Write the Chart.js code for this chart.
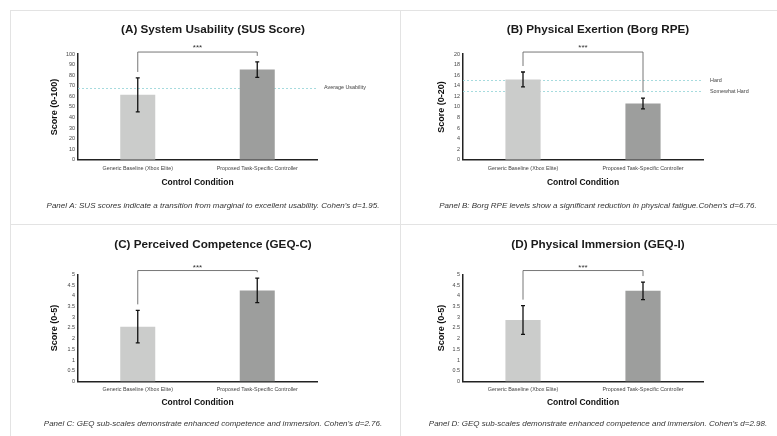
<!DOCTYPE html>
<html><head><meta charset="utf-8">
<script src="https://cdn.jsdelivr.net/npm/chart.js@4"></script>
<style>
html,body{margin:0;padding:0;background:#fff;}
body{width:777px;height:436px;position:relative;overflow:hidden;font-family:"Liberation Sans",Arial,sans-serif;}
.line{position:absolute;background:#e3e3e3;}
canvas{position:absolute;}
</style></head><body>
<div class="line" style="left:10px;top:10px;width:767px;height:1px"></div>
<div class="line" style="left:10px;top:224px;width:767px;height:1px"></div>
<div class="line" style="left:10px;top:10px;width:1px;height:426px"></div>
<div class="line" style="left:400px;top:10px;width:1px;height:426px"></div>
<canvas id="cA" width="374" height="214" style="left:26px;top:10px;width:374px;height:214px"></canvas>
<canvas id="cB" width="358" height="214" style="left:419px;top:10px;width:358px;height:214px"></canvas>
<canvas id="cC" width="374" height="212" style="left:26px;top:224px;width:374px;height:212px"></canvas>
<canvas id="cD" width="358" height="212" style="left:419px;top:224px;width:358px;height:212px"></canvas>
<script>
// ---- data ----
const categories = ['Generic Baseline (Xbox Elite)', 'Proposed Task-Specific Controller'];

const susMeans = [61.4, 85.3];
const susSDs = [16.0, 7.3];
const susRefValues = [68];
const susRefLabels = ['Average Usability'];

const borgMeans = [15.2, 10.65];
const borgSDs = [1.4, 1.0];
const borgRefValues = [15, 13];
const borgRefLabels = ['Hard', 'Somewhat Hard'];

const geqCMeans = [2.56, 4.25];
const geqCSDs = [0.76, 0.57];

const geqIMeans = [2.87, 4.23];
const geqISDs = [0.67, 0.41];

const sigLabel = '***';

const titles = ['(A) System Usability (SUS Score)', '(B) Physical Exertion (Borg RPE)', '(C) Perceived Competence (GEQ-C)', '(D) Physical Immersion (GEQ-I)'];
const yTitles = ['Score (0-100)', 'Score (0-20)', 'Score (0-5)', 'Score (0-5)'];
const xTitle = 'Control Condition';
const captions = [
  "Panel A: SUS scores indicate a transition from marginal to excellent usability. Cohen's d=1.95.",
  "Panel B: Borg RPE levels show a significant reduction in physical fatigue.Cohen's d=6.76.",
  "Panel C: GEQ sub-scales demonstrate enhanced competence and immersion. Cohen's d=2.76.",
  "Panel D: GEQ sub-scales demonstrate enhanced competence and immersion. Cohen's d=2.98."
];

// ---- drawing ----
const FONT = '"Liberation Sans", Arial, sans-serif';
const barColors = ['#cbcccb', '#9d9e9d'];

const annot = {
  id: 'annot',
  beforeDatasetsDraw(chart, args, o) {
    const {ctx, chartArea: ca, scales: {y}} = chart;
    ctx.save();
    ctx.strokeStyle = '#a6dbde'; ctx.lineWidth = 1; ctx.setLineDash([2, 2]);
    (o.refValues || []).forEach(v => {
      const py = Math.round(y.getPixelForValue(v)) + 0.5;
      ctx.beginPath(); ctx.moveTo(ca.left, py); ctx.lineTo(ca.right, py); ctx.stroke();
    });
    ctx.restore();
  },
  afterDatasetsDraw(chart, args, o) {
    const {ctx, chartArea: ca, scales: {x, y}} = chart;
    const m = o.means, s = o.sds;
    ctx.save();
    ctx.strokeStyle = '#111'; ctx.lineWidth = 1.3;
    m.forEach((v, i) => {
      const px = x.getPixelForValue(i);
      const t = y.getPixelForValue(v + s[i]), b = y.getPixelForValue(v - s[i]);
      ctx.beginPath();
      ctx.moveTo(px, t); ctx.lineTo(px, b);
      ctx.moveTo(px - 2, t); ctx.lineTo(px + 2, t);
      ctx.moveTo(px - 2, b); ctx.lineTo(px + 2, b);
      ctx.stroke();
    });
    const by = ca.top - o.bracketOff;
    const x0 = x.getPixelForValue(0), x1 = x.getPixelForValue(1);
    const l0 = y.getPixelForValue(m[0] + s[0]) - 6, l1 = y.getPixelForValue(m[1] + s[1]) - 6;
    ctx.strokeStyle = '#666'; ctx.lineWidth = 0.9;
    ctx.beginPath(); ctx.moveTo(x0, l0); ctx.lineTo(x0, by); ctx.lineTo(x1, by); ctx.lineTo(x1, l1); ctx.stroke();
    ctx.fillStyle = '#333'; ctx.font = '8px ' + FONT; ctx.textAlign = 'center'; ctx.textBaseline = 'alphabetic';
    ctx.fillText(sigLabel, (x0 + x1) / 2, by - o.starOff);
    ctx.restore();
  }
};

function makePanel(id, idx, means, sds, yMax, yStep, refValues, refLabels, col, row) {
  new Chart(document.getElementById(id), {
    type: 'bar',
    data: {
      labels: categories,
      datasets: [{ data: means, backgroundColor: barColors, borderWidth: 0, categoryPercentage: 1, barPercentage: 0.293 }]
    },
    plugins: [annot],
    options: {
      responsive: false, animation: false, devicePixelRatio: 1,
      layout: { padding: 0 },
      plugins: {
        legend: { display: false }, tooltip: { enabled: false },
        title: { display: true, text: titles[idx], color: '#1a1a1a',
          font: { family: FONT, size: 11.7, weight: 'bold', lineHeight: 1.2 }, padding: row.titlePad },
        subtitle: { display: true, position: 'bottom', text: captions[idx], color: '#333',
          font: { family: FONT, size: 8, style: 'italic', lineHeight: 1.2 }, padding: row.capPad },
        annot: { means, sds, refValues, bracketOff: row.bracketOff, starOff: row.starOff }
      },
      scales: {
        x: {
          grid: { display: false, drawTicks: false },
          border: { display: true, color: '#222', width: 1.5 },
          ticks: { font: { family: FONT, size: 5.4, lineHeight: 1.2 }, color: '#444', padding: row.tickPad, maxRotation: 0, autoSkip: false },
          title: { display: true, text: xTitle, color: '#111', font: { family: FONT, size: 8.5, weight: 'bold', lineHeight: 1.2 }, padding: row.xTitlePad }
        },
        y: {
          min: 0, max: yMax,
          grid: { display: false, drawTicks: false },
          border: { display: true, color: '#222', width: 1.5 },
          ticks: { stepSize: yStep, font: { family: FONT, size: 5.4, lineHeight: 1.2 }, color: '#444', padding: 3, callback: v => String(v) },
          title: { display: true, text: yTitles[idx], color: '#111', font: { family: FONT, size: 9, weight: 'bold', lineHeight: 1.2 }, padding: { top: col.yTitlePad, bottom: 0 } },
          afterFit: s => { s.width = col.yAxisW; }
        },
        y2: {
          position: 'right', min: 0, max: yMax,
          grid: { display: false, drawTicks: false },
          border: { display: false },
          afterBuildTicks: s => { s.ticks = refValues.map(v => ({ value: v })); },
          ticks: { autoSkip: false, font: { family: FONT, size: 5.4, lineHeight: 1.2 }, color: '#444', padding: 7,
            callback: v => { const k = refValues.indexOf(v); return k >= 0 ? refLabels[k] : ''; } },
          afterFit: s => { s.width = col.rightW; }
        }
      }
    }
  });
}

const colL = { yAxisW: 52, rightW: 83, yTitlePad: 23.6 };
const colR = { yAxisW: 44, rightW: 74, yTitlePad: 16.9 };
const rowT = { titlePad: { top: 13, bottom: 17 }, tickPad: 5.8, xTitlePad: { top: 0, bottom: 2 }, capPad: { top: 11.1, bottom: 13.2 }, bracketOff: 2, starOff: 2 };
const rowB = { titlePad: { top: 14, bottom: 22.3 }, tickPad: 4.8, xTitlePad: { top: 0, bottom: 2 }, capPad: { top: 9.4, bottom: 7.2 }, bracketOff: 3.8, starOff: 1 };

makePanel('cA', 0, susMeans, susSDs, 100, 10, susRefValues, susRefLabels, colL, rowT);
makePanel('cB', 1, borgMeans, borgSDs, 20, 2, borgRefValues, borgRefLabels, colR, rowT);
makePanel('cC', 2, geqCMeans, geqCSDs, 5, 0.5, [], [], colL, rowB);
makePanel('cD', 3, geqIMeans, geqISDs, 5, 0.5, [], [], colR, rowB);
</script>
</body></html>
